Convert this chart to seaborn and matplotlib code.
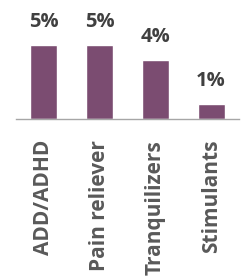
import matplotlib
matplotlib.use("Agg")
import matplotlib.pyplot as plt
import seaborn as sns
import pandas as pd
import numpy as np

categories = ["ADD/ADHD", "Pain reliever", "Tranquilizers", "Stimulants"]
values = [5, 5, 4, 1]
labels = ["5%", "5%", "4%", "1%"]

sns.set_style("white")
plt.rcParams['font.family'] = ['Open Sans', 'DejaVu Sans']

df = pd.DataFrame({"cat": categories, "val": values})

fig = plt.figure(figsize=(2.44, 2.80), dpi=100)
ax = fig.add_axes([16/244, 1 - 119/280, (239-16)/244, 88.8/280])
sns.barplot(data=df, x="cat", y="val", color="#7B4C71", width=0.48, ax=ax,
            saturation=1)
ax.set_ylim(0, 6)
ax.set_xlim(-0.5, 3.5)
for i, (v, t) in enumerate(zip(values, labels)):
    ax.annotate(t, (i, v), xytext=(0, 13), textcoords="offset points",
                ha="center", va="baseline", fontsize=14.5,
                fontweight="bold", color="#404040")
ax.set_xlabel("")
ax.set_ylabel("")
ax.set_yticks([])
for s in ["left", "right", "top"]:
    ax.spines[s].set_visible(False)
ax.spines["bottom"].set_color("#A6A6A6")
ax.spines["bottom"].set_linewidth(1)
ax.set_xticks(np.arange(-0.5, 4, 1), minor=True)
ax.tick_params(axis="x", which="minor", length=7, width=1, color="#A6A6A6", direction="out")
ax.tick_params(axis="x", which="major", length=0, pad=15)
ax.set_xticks(range(len(categories)))
ax.set_xticklabels(categories, rotation=90, fontsize=15, fontweight="bold", color="#595959")
fig.savefig("out.png", dpi=100)
